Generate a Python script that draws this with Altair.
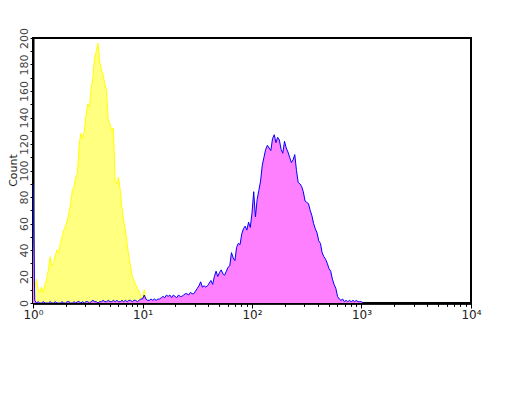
import altair as alt
import pandas as pd

# Histogram channels: 64 log channels per decade, channel 0 at x = 1
CH_PER_DECADE = 64

yellow_counts = [
    20, 12, 18, 10, 8, 12, 8, 14, 18, 25,
    35, 28, 30, 36, 40, 38, 45, 50, 55, 58,
    62, 68, 75, 85, 88, 95, 98, 120, 128, 124,
    130, 142, 150, 148, 162, 170, 185, 190, 196, 182,
    176, 172, 165, 160, 138, 135, 130, 132, 92, 90,
    95, 85, 72, 62, 55, 45, 35, 28, 20, 17,
    14, 11, 9, 5, 3, 10, 3, 1, 0,
]

magenta_counts = [
    90, 2, 0, 1, 0, 0, 1, 0, 0, 0,
    1, 0, 0, 1, 0, 0, 0, 1, 0, 0,
    1, 1, 0, 0, 1, 0, 1, 1, 0, 1,
    0, 1, 1, 0, 1, 2, 1, 1, 0, 1,
    1, 2, 1, 1, 2, 1, 1, 2, 1, 2,
    1, 1, 2, 1, 2, 1, 2, 2, 1, 2,
    2, 1, 2, 3, 3, 6, 3, 2, 2, 3,
    2, 3, 2, 3, 3, 4, 5, 4, 6, 5,
    6, 4, 6, 5, 4, 6, 5, 5, 6, 7,
    7, 6, 8, 7, 7, 9, 11, 13, 16, 12,
    13, 12, 13, 15, 17, 14, 20, 24, 20, 23,
    25, 22, 21, 24, 27, 28, 38, 34, 32, 42,
    45, 44, 52, 56, 58, 55, 61, 57, 68, 84,
    65, 78, 85, 92, 104, 110, 116, 119, 117, 115,
    124, 127, 121, 125, 123, 116, 113, 122, 117, 114,
    110, 106, 108, 112, 100, 91, 90, 88, 84, 77,
    76, 75, 70, 66, 60, 56, 53, 47, 45, 38,
    35, 33, 30, 26, 24, 18, 14, 11, 5, 3,
    2, 3, 1, 2, 1, 2, 1, 2, 1, 2,
    1, 1, 1, 0,
]

decade_ticks = [1, 10, 100, 1000, 10000]
decade_labels = ["10\u2070", "10\u00b9", "10\u00b2", "10\u00b3", "10\u2074"]
minor_ticks = [m * d for d in [1, 10, 100, 1000] for m in range(2, 10)]
y_ticks = list(range(0, 201, 10))

def frame(counts, name):
    return pd.DataFrame({
        "x": [10 ** (i / CH_PER_DECADE) for i in range(len(counts))],
        "count": counts,
        "series": name,
    })

dy = frame(yellow_counts, "yellow")
dm = frame(magenta_counts, "magenta")

label_expr = "{" + ",".join(f"'{v}':'{l}'" for v, l in zip(decade_ticks, decade_labels)) + "}[datum.value]"

xscale = alt.Scale(type="log", domain=[1, 10000], nice=False)
yscale = alt.Scale(domain=[0, 200], nice=False)

font = "DejaVu Sans"

x_minor = alt.X("x:Q", scale=xscale, axis=alt.Axis(
    values=minor_ticks, labels=False, tickSize=3, domain=True, domainColor="black",
    domainWidth=2, tickColor="black", grid=False, title=None, orient="bottom"))
x_major = alt.X("x:Q", scale=xscale, axis=alt.Axis(
    values=decade_ticks, labelExpr=label_expr, tickSize=5, domain=False, tickColor="black",
    grid=False, title=None, labelFont=font, labelFontSize=12, labelColor="#222",
    labelPadding=1, orient="bottom", labelFlush=False, labelOverlap=False))
y_enc = alt.Y("count:Q", scale=yscale, axis=alt.Axis(
    values=y_ticks, labelExpr="datum.value % 20 == 0 ? datum.label : ''",
    tickSize=3, tickColor="black", domainColor="black", domainWidth=2, grid=False,
    labelAngle=270, labelAlign="center", labelBaseline="bottom", labelPadding=1,
    labelFont=font, labelFontSize=11, labelColor="#444", labelOverlap=False,
    labelFlush=False,
    title="Count", titleFont=font, titleFontSize=11, titleFontWeight="normal",
    titleColor="#222", titleAngle=270, titleBaseline="middle", titleAlign="center",
    titleX=-20, titleY=132))

yellow_area = alt.Chart(dy).mark_area(color="#FFFF80", opacity=1, clip=True).encode(x=x_minor, y=y_enc)
yellow_line = alt.Chart(dy).mark_line(color="#FFFF00", strokeWidth=1, clip=True).encode(x=x_minor, y=y_enc)
mag_area = alt.Chart(dm).mark_area(color="#FF80FF", opacity=1, clip=True).encode(x=x_minor, y=y_enc)
mag_line = alt.Chart(dm).mark_line(color="#0000FF", strokeWidth=1, clip=True).encode(x=x_major, y=y_enc)

chart = alt.layer(yellow_area, yellow_line, mag_area, mag_line).resolve_axis(
    x="independent"
).properties(
    width=438, height=265,
    background="white",
    autosize=alt.AutoSizeParams(type="none"),
    padding={"left": 25, "top": 30, "right": 28, "bottom": 95},
).configure_view(stroke="black", strokeWidth=2)

chart.save("out.html", embed_options={"renderer": "svg", "actions": False})
